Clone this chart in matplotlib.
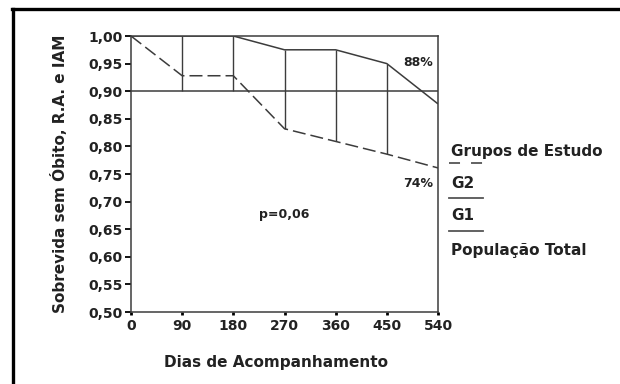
import matplotlib
matplotlib.use("Agg")
import matplotlib.pyplot as plt
from matplotlib.lines import Line2D

# Data
days = [0, 90, 180, 270, 360, 450, 540]
g1 = [1.00, 1.00, 1.00, 0.975, 0.975, 0.950, 0.877]
g2 = [1.00, 0.928, 0.928, 0.832, 0.809, 0.786, 0.761]
total_level = 0.90
vline_days = [90, 180, 270, 360, 450]
vline_top = [1.00, 1.00, 0.975, 0.975, 0.950]
vline_bottom = [0.90, 0.90, 0.832, 0.809, 0.786]
yticks = [0.50, 0.55, 0.60, 0.65, 0.70, 0.75, 0.80, 0.85, 0.90, 0.95, 1.00]
ytick_labels = ["0,50", "0,55", "0,60", "0,65", "0,70", "0,75", "0,80", "0,85", "0,90", "0,95", "1,00"]
xtick_labels = ["0", "90", "180", "270", "360", "450", "540"]
legend_labels = ["Grupos de Estudo", "G2", "G1", "População Total"]

plt.rcParams['font.family'] = ['DejaVu Sans']
plt.rcParams['font.weight'] = 'bold'

W, H = 620, 384
fig = plt.figure(figsize=(6.2, 3.84), dpi=100)
ax = fig.add_axes([131 / W, 1 - 312 / H, (438 - 131) / W, (312 - 36) / H])

lc = "#3c3c3c"
tc = "#222222"
ax.plot(days, g1, color=lc, lw=1.1, solid_capstyle='butt')
ax.plot(days, g2, color=lc, lw=1.1, dashes=(8.5, 3.3))
ax.hlines(total_level, days[0], days[-1], color=lc, lw=1.1)
ax.vlines(vline_days, vline_bottom, vline_top, color=lc, lw=1.0)

ax.set_xlim(0, 540)
ax.set_ylim(0.50, 1.00)
ax.set_xticks(days)
ax.set_xticklabels(xtick_labels)
ax.set_yticks(yticks)
ax.set_yticklabels(ytick_labels)
for s in ax.spines.values():
    s.set_color(lc)
    s.set_linewidth(1.1)
ax.tick_params(axis='y', direction='out', length=4, width=1.3, colors='black', labelsize=10, pad=2)
ax.tick_params(axis='x', direction='out', length=2, width=2, colors='black', labelsize=10, pad=3)
for t in ax.get_xticklabels() + ax.get_yticklabels():
    t.set_fontweight('bold')
    t.set_color(tc)

ax.set_xlabel("Dias de Acompanhamento", fontsize=11, fontweight='bold', color=tc)
ax.xaxis.set_label_coords((276 - 131) / (438 - 131), -(362 - 312) / (312 - 36))
ax.xaxis.label.set_va('center')
ax.set_ylabel("Sobrevida sem Óbito, R.A. e IAM", fontsize=11, fontweight='bold', color=tc)
ax.yaxis.set_label_coords(-(131 - 60) / (438 - 131), 0.5)
ax.yaxis.label.set_va('center')

ax.text(505, 0.952, "88%", ha='center', va='center', fontsize=9, fontweight='bold', color=tc)
ax.text(505, 0.733, "74%", ha='center', va='center', fontsize=9, fontweight='bold', color=tc)
ax.text(269, 0.676, "p=0,06", ha='center', va='center', fontsize=9, fontweight='bold', color=tc)

# Legend-like annotation
lx0, lx1 = 449 / W, 483 / W
tx = 451 / W
text_y = [151, 183, 216, 250]
for lab, yy in zip(legend_labels, text_y):
    fig.text(tx, 1 - yy / H, lab, ha='left', va='center', fontsize=11, fontweight='bold', color=tc)
line_y = [163, 198, 231]
line_styles = [dict(dashes=(6.1, 6.1)), dict(), dict()]
for yy, st in zip(line_y, line_styles):
    fig.add_artist(Line2D([lx0, lx1], [1 - yy / H, 1 - yy / H], transform=fig.transFigure,
                          color='#555555', lw=1.3, **st))

# Outer frame (left and top)
fig.add_artist(Line2D([13 / W, 13 / W], [0, 1 - 9 / H], transform=fig.transFigure, color='black', lw=2.4))
fig.add_artist(Line2D([12 / W, 1], [1 - 9 / H, 1 - 9 / H], transform=fig.transFigure, color='black', lw=2.4))

fig.savefig("out.png", dpi=100)
